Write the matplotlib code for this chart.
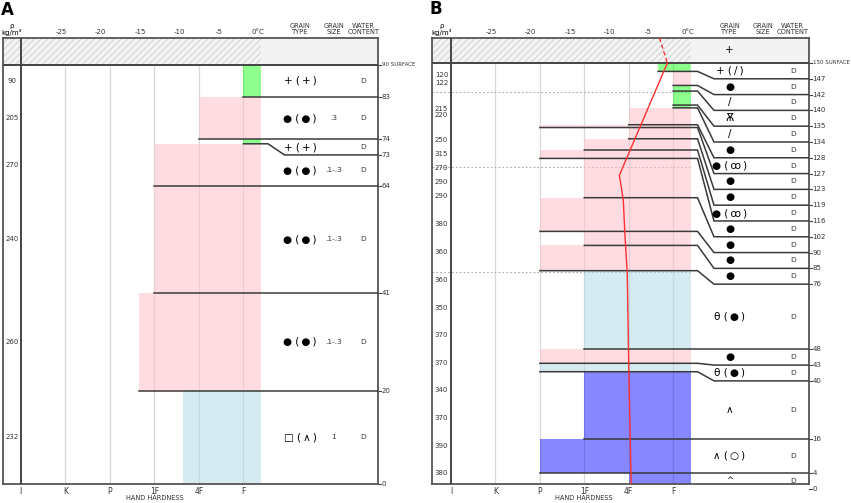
import matplotlib
matplotlib.use('Agg')
import matplotlib.pyplot as plt
from matplotlib.patches import Rectangle

plt.rcParams['font.family'] = ['Liberation Sans Narrow', 'DejaVu Sans']
plt.rcParams['hatch.linewidth'] = 0.6
plt.rcParams['hatch.color'] = '#cccccc'

hard_labels = ['I', 'K', 'P', '1F', '4F', 'F']
temp_ticks = [-25, -20, -15, -10, -5, 0]

# profile A
a_bounds = [90, 83, 74, 73, 64, 41, 20, 0]
a_hard = [5, 4, 5, 3, 3, 2.65, 3.65]
a_fill = ['green', 'pink', 'green', 'pink', 'pink', 'pink', 'lblue']
a_grain = [('+', '+'), ('●', '●'), ('+', '+'), ('●', '●'), ('●', '●'), ('●', '●'), ('□', '∧')]
a_size = ['', '.3', '', '.1-.3', '.1-.3', '.1-.3', '1']
a_water = ['D'] * 7
a_dens = [90, 205, 270, 240, 260, 232]
a_dens_h = [86.5, 78.5, 68.5, 52.5, 30.5, 10]

# profile B
b_bounds = [150, 147, 142, 140, 135, 134, 128, 127, 123, 119, 116, 102, 90, 85, 76, 48, 43, 40, 16, 4, 0]
b_hard = [4.66, 5, 5, 5, 5, 4, 2, 4, 3, 2, 3, 2, 3, 2, 3, 2, 2, 3, 2, 4]
b_fill = ['green', 'pink', 'green', 'green', 'green', 'pink', 'pink', 'pink', 'pink', 'pink',
          'pink', 'pink', 'pink', 'pink', 'lblue', 'pink', 'lblue', 'blue', 'blue', 'blue']
b_grain = [('+', '/'), ('●', ''), ('/', ''), ('Ѫ', ''), ('/', ''), ('●', ''), ('●', 'ꝏ'),
           ('●', ''), ('●', ''), ('●', 'ꝏ'), ('●', ''), ('●', ''), ('●', ''), ('●', ''),
           ('θ', '●'), ('●', ''), ('θ', '●'), ('∧', ''), ('∧', '○'), ('^', '')]
b_size = [''] * 20
b_water = ['D'] * 20
b_dens = [120, 122, 215, 220, 250, 315, 270, 290, 290, 380, 360, 360, 350, 370, 370, 340, 370, 390, 380]
b_dens_h = [145.6, 143.0, 133.6, 131.4, 122.5, 117.6, 112.6, 107.6, 102.6, 92.6, 82.6, 72.7,
            62.7, 53.1, 43.1, 33.5, 23.5, 13.5, 3.9]
b_dotted = [139.6, 112.9, 75.5]
b_temp_h = [150, 110, 101, 89, 75, 40, 0]
b_temp = [-2.6, -8.7, -8.2, -8.0, -7.7, -7.5, -7.2]
b_air = -3.6
b_air_grain = '+'

fills = {'green': ('#00ff00', 0.45), 'pink': ('#ffc0cb', 0.55),
         'lblue': ('#add8e6', 0.5), 'blue': ('#0000ff', 0.47)}

HR = 5.4                      # right edge of hardness area
X1, X2 = 5.55, 5.92           # kink of layer lines
XT, XS, XW = 6.27, 7.03, 7.69  # grain type / size / water columns
DARK = '#3a3a3a'
TS = '\u2009'


def tx(t):
    return 5.33 + 0.177 * t


def grain_text(g):
    a, b = g
    if b:
        return a + ' (' + TS + b + TS + ')'
    return a


def label_heights(bounds, gap):
    lab = list(bounds)
    for i in range(1, len(lab)):
        lab[i] = min(lab[i], lab[i - 1] - gap)
    for i in range(len(lab) - 2, -1, -1):
        lab[i] = max(lab[i], lab[i + 1] + gap)
    return lab


def profile(ax, bounds, hard, fill, grain, size, water, dens, dens_h, xmin, xmax, top, px_cm):
    surf = bounds[0]
    ax.set_xlim(xmin, xmax)
    ax.set_ylim(0, top)
    ax.set_xticks([])
    ax.set_yticks([])
    for s in ax.spines.values():
        s.set_color('#555555')
        s.set_linewidth(1.3)
    fy = lambda p: (484 - p) / 446.0
    trx = ax.get_xaxis_transform()

    # band above the surface
    ax.add_patch(Rectangle((xmin, surf), HR - xmin, top - surf, facecolor='#f3f3f3',
                           hatch='/////', edgecolor='#cccccc', lw=0, zorder=0))
    ax.add_patch(Rectangle((HR, surf), xmax - HR, top - surf, facecolor='#f3f3f3', lw=0, zorder=0))

    for k in range(1, 6):
        ax.plot([k, k], [0, surf], color='#d8d8d8', lw=0.9, zorder=1)

    lab = label_heights(bounds, 15.8 / px_cm)
    for i in range(len(hard)):
        y0, y1 = bounds[i + 1], bounds[i]
        c, a = fills[fill[i]]
        ax.add_patch(Rectangle((hard[i], y0), HR - hard[i], y1 - y0, facecolor=c, alpha=a,
                               lw=0, zorder=2))
        if y0 > 0:
            ax.plot([hard[i], X1, X2, xmax], [y0, y0, lab[i + 1], lab[i + 1]],
                    color=DARK, lw=1.1, zorder=4, solid_joinstyle='miter')
        ym = (lab[i] + lab[i + 1]) / 2
        g = grain_text(grain[i])
        fs = 6 if g == '^' else 7.5
        ax.text(XT, ym, g, ha='center', va='center', fontsize=fs, color='black', zorder=5)
        ax.text(XS, ym, size[i], ha='center', va='center', fontsize=5.3, color='#333333')
        ax.text(XW, ym, water[i], ha='center', va='center', fontsize=5.3, color='#333333')

    ax.plot([xmin, xmax], [surf, surf], color='#444444', lw=1.4, zorder=4)
    ax.plot([0, 0], [0, top], color='#444444', lw=1.4, zorder=4)

    for j, h in enumerate(bounds):
        ax.plot([xmax, xmax + 0.06], [lab[j], lab[j]], color='#444444', lw=0.8, clip_on=False)
        txt = '%d SURFACE' % h if j == 0 else '%d' % h
        ax.text(xmax + 0.08, lab[j], txt, ha='left', va='center', fontsize=4.0 if j == 0 else 5,
                color='#333333', clip_on=False)

    for d, h in zip(dens, dens_h):
        ax.text(xmin / 2, h, '%d' % d, ha='center', va='center', fontsize=5, color='#333333')

    # headings
    ax.text(xmin / 2, fy(26), 'ρ', transform=trx, ha='center', va='center', fontsize=5)
    ax.text(xmin / 2, fy(32), 'kg/m³', transform=trx, ha='center', va='center', fontsize=5)
    for t in temp_ticks:
        ax.text(tx(t), fy(32), '0°C' if t == 0 else '%d' % t, transform=trx,
                ha='center', va='center', fontsize=5, color='#333333')
    for x, s in [(XT, 'GRAIN\nTYPE'), (XS, 'GRAIN\nSIZE'), (XW, 'WATER\nCONTENT')]:
        ax.text(x, fy(29), s, transform=trx, ha='center', va='center', fontsize=4.8,
                linespacing=1.1, color='#333333')
    for k, s in enumerate(hard_labels):
        ax.text(k, fy(491), s, transform=trx, ha='center', va='center', fontsize=5.5,
                color='#333333')
    ax.text(3, fy(498), 'HAND HARDNESS', transform=trx, ha='center', va='center', fontsize=4.8,
            color='#333333')


fig = plt.figure(figsize=(8.51, 5.03), dpi=100)
axA = fig.add_axes([3 / 851, 19 / 503, 375 / 851, 446 / 503])
axB = fig.add_axes([432 / 851, 19 / 503, 377 / 851, 446 / 503])

profile(axA, a_bounds, a_hard, a_fill, a_grain, a_size, a_water, a_dens, a_dens_h,
        -0.40, 8.02, 95.7, 4.66)
profile(axB, b_bounds, b_hard, b_fill, b_grain, b_size, b_water, b_dens, b_dens_h,
        -0.43, 8.06, 158.9, 2.807)

for h in b_dotted:
    axB.plot([-0.43, HR], [h, h], color='#aaaaaa', lw=0.8, ls=(0, (1.5, 2)), zorder=1.5)

axB.text(XT, (150 + 158.9) / 2, b_air_grain, ha='center', va='center', fontsize=7.5)
axB.plot([tx(b_air), tx(b_temp[0])], [158.9, b_temp_h[0]], color='#ff3030', lw=1.0,
         ls=(0, (3, 2)), zorder=6)
axB.plot([tx(t) for t in b_temp], b_temp_h, color='#ff3030', lw=1.0, zorder=6)

fig.text(7 / 851, 1 - 10 / 503, 'A', fontsize=12, fontweight='bold', ha='center', va='center',
         family='DejaVu Sans')
fig.text(436 / 851, 1 - 9 / 503, 'B', fontsize=12, fontweight='bold', ha='center', va='center',
         family='DejaVu Sans')

fig.savefig('out.png', dpi=100)
